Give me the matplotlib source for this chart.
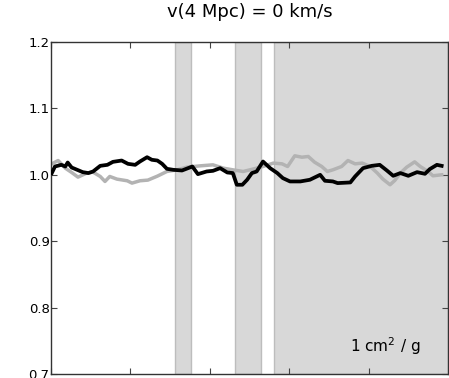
import matplotlib
matplotlib.use("Agg")
import matplotlib.pyplot as plt

title = "v(4 Mpc) = 0 km/s"
label = "1 cm$^2$ / g"

black_x = [0.01, 0.05, 0.13, 0.18, 0.21, 0.26, 0.33, 0.40, 0.47, 0.53, 0.62, 0.71, 0.78, 0.89, 0.97,
           1.06, 1.12, 1.21, 1.27, 1.34, 1.40, 1.46, 1.54, 1.65, 1.78, 1.85, 1.96, 2.04, 2.13, 2.22,
           2.29, 2.34, 2.41, 2.47, 2.53, 2.59, 2.67, 2.76, 2.85, 2.92, 3.01, 3.14, 3.26, 3.39, 3.45,
           3.55, 3.61, 3.77, 3.83, 3.93, 4.04, 4.14, 4.23, 4.31, 4.40, 4.50, 4.61, 4.71, 4.77, 4.86, 4.92]
black_y = [1.0026, 1.0125, 1.015, 1.0125, 1.0185, 1.011, 1.0075, 1.004, 1.0026, 1.005, 1.0135, 1.015,
           1.0195, 1.0215, 1.0165, 1.015, 1.020, 1.0265, 1.0226, 1.0215, 1.0165, 1.009, 1.0075, 1.0065,
           1.0125, 1.001, 1.005, 1.006, 1.010, 1.0035, 1.0026, 0.985, 0.985, 0.9925, 1.0026, 1.005,
           1.020, 1.010, 1.0026, 0.995, 0.990, 0.990, 0.9925, 1.000, 0.991, 0.990, 0.9875, 0.9885,
           0.9975, 1.010, 1.0135, 1.015, 1.0065, 0.9985, 1.0026, 0.9985, 1.004, 1.0015, 1.0085, 1.015, 1.0135]

gray_x = [0.01, 0.09, 0.18, 0.26, 0.34, 0.45, 0.53, 0.62, 0.68, 0.74, 0.83, 0.96, 1.02, 1.12, 1.22,
          1.34, 1.46, 1.59, 1.71, 1.88, 2.04, 2.17, 2.29, 2.42, 2.54, 2.67, 2.80, 2.91, 2.98, 3.07,
          3.16, 3.24, 3.32, 3.41, 3.48, 3.55, 3.66, 3.74, 3.83, 3.92, 4.02, 4.11, 4.18, 4.27, 4.33,
          4.40, 4.48, 4.58, 4.65, 4.75, 4.81, 4.92]
gray_y = [1.0165, 1.0215, 1.010, 1.0035, 0.9965, 1.0026, 1.004, 0.9975, 0.990, 0.9975, 0.9935, 0.991,
          0.9875, 0.991, 0.992, 0.998, 1.005, 1.0075, 1.0115, 1.0135, 1.015, 1.010, 1.0075, 1.005,
          1.0085, 1.0125, 1.0176, 1.0165, 1.0125, 1.0286, 1.0265, 1.0276, 1.019, 1.0125, 1.005, 1.0075,
          1.0125, 1.0215, 1.0165, 1.0176, 1.0125, 1.0026, 0.9935, 0.985, 0.9915, 1.0026, 1.0115,
          1.0195, 1.0125, 1.005, 0.9985, 1.000]

spans = [(1.56, 1.76), (2.32, 2.64), (2.81, 5.0)]
yticks = [0.7, 0.8, 0.9, 1.0, 1.1, 1.2]
xticks = [0, 1, 2, 3, 4]

fig = plt.figure(figsize=(4.49, 3.78), dpi=100)
ax = fig.add_axes([51 / 449, 4 / 378, 397 / 449, 332 / 378])

for a, b in spans:
    ax.axvspan(a, b, facecolor='#d8d8d8', edgecolor='#bdbdbd', lw=1, zorder=0)

ax.plot(gray_x, gray_y, color='#b3b3b3', lw=2.5, zorder=2)
ax.plot(black_x, black_y, color='black', lw=2.7, zorder=3)

ax.set_xlim(0, 5)
ax.set_ylim(0.7, 1.2)
ax.set_yticks(yticks)
ax.set_yticklabels([f"{v:.1f}" for v in yticks])
ax.set_xticks(xticks)
ax.set_xticklabels([])
ax.tick_params(direction='in', top=True, right=True, length=4, width=0.8, color='#444444')
ax.tick_params(axis='y', pad=1, labelsize=9.5)
for s in ax.spines.values():
    s.set_color('#333333')
    s.set_linewidth(1)

ax.set_title(title, fontsize=13, pad=18)
ax.text(0.93, 0.05, label, transform=ax.transAxes, ha='right', va='bottom', fontsize=11)

fig.savefig("out.png", dpi=100)
